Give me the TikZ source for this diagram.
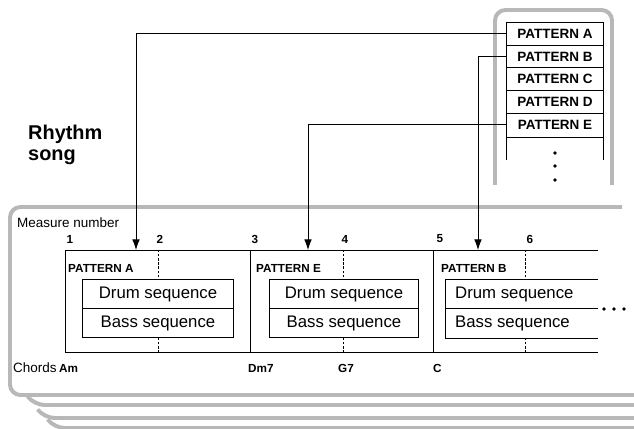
\documentclass[tikz,border=0pt]{standalone}
\usepackage{fontspec}
\setmainfont{Liberation Sans}
\usetikzlibrary{arrows.meta}
\begin{document}
\begin{tikzpicture}[x=0.03cm,y=-0.03cm,
  gr/.style={draw=black!28,line width=3.4pt,rounded corners=9},
  pat/.style={font=\bfseries\fontsize{9}{10}\selectfont,inner sep=0pt},
  num/.style={font=\bfseries\fontsize{10}{11}\selectfont,inner sep=0pt},
  seq/.style={draw,line width=0.5pt,minimum width=151*0.03cm,minimum height=29.5*0.03cm,inner sep=0pt,font=\fontsize{14.3}{15}\selectfont},
  arr/.style={-{Latex[length=9pt,width=6.5pt]},line width=0.7pt},
  dsh/.style={dash pattern=on 2pt off 1.5pt,line width=0.5pt}]
\useasboundingbox (0,0) rectangle (634,429);
% pattern library
\draw[gr] (495,185) -- (495,10) -- (612,10) -- (612,185);
\foreach \y/\l [count=\i] in {22/A,45/B,67/C,90/D,113/E}{
  \node[pat,font=\bfseries\fontsize{11.5}{12}\selectfont] (p\l) at (555,\y+11.5) {PATTERN \l};
  \coordinate (pl\l) at (506,\y+11.5);
}
\draw[line width=0.5pt] (506,160) -- (506,22) -- (603,22) -- (603,160);
\foreach \y in {45,67,90,113,137} \draw[line width=0.5pt] (506,\y) -- (603,\y);
\foreach \y in {153,166,180} \fill (555,\y) circle (1.8);
% title
\node[anchor=west,font=\bfseries\fontsize{17}{18}\selectfont,align=left,inner sep=0pt] (title) at (28,145) {Rhythm\\song};
% song layers
\draw[gr] (634,428) -- (54,428) -- (48,420);
\draw[gr] (634,418) -- (44,418) -- (38,410);
\draw[gr] (634,405) -- (34,405) -- (28,397);
\draw[gr] (622,207) -- (10,207) -- (10,395) -- (634,395);
\node[anchor=west,font=\fontsize{11.5}{12}\selectfont,inner sep=0pt] (mn) at (17,223) {Measure number};
\foreach \x/\n in {70/1,160/2,255/3,345/4,440/5,530/6}
  \node[num] (n\n) at (\x,239) {\n};
% main frame
\draw[line width=0.6pt] (598,250) -- (65,250) -- (65,352) -- (598,352);
\foreach \x in {250,433} \draw[line width=0.6pt] (\x,250) -- (\x,352);
\foreach \x in {158,343,525} {\draw[dsh] (\x,250) -- (\x,279); \draw[dsh] (\x,338) -- (\x,352);}
\node[pat,anchor=west,font=\bfseries\fontsize{10}{11}\selectfont] (sa) at (68,268) {PATTERN A};
\node[pat,anchor=west,font=\bfseries\fontsize{10}{11}\selectfont] (se) at (256,268) {PATTERN E};
\node[pat,anchor=west,font=\bfseries\fontsize{10}{11}\selectfont] (sb) at (441,268) {PATTERN B};
\node[seq] (d1) at (158,294) {Drum sequence};
\node[seq] (b1) at (158,323) {Bass sequence};
\node[seq,minimum width=149*0.03cm] (d2) at (344,294) {Drum sequence};
\node[seq,minimum width=149*0.03cm] (b2) at (344,323) {Bass sequence};
\draw[line width=0.5pt] (598,279) -- (445,279) -- (445,338) -- (598,338) (445,308) -- (598,308);
\node[anchor=west,inner sep=0pt,font=\fontsize{14.3}{15}\selectfont] (d3) at (455,294) {Drum sequence};
\node[anchor=west,inner sep=0pt,font=\fontsize{14.3}{15}\selectfont] (b3) at (455,323) {Bass sequence};
\foreach \x in {604,614,624} \fill (\x,309) circle (1.8);
% chords
\node[anchor=west,font=\fontsize{11.5}{12}\selectfont,inner sep=0pt] (ch) at (13,368) {Chords};
\foreach \x/\c in {66/Am,255/Dm7,345/G7,440/C}
  \node[num,anchor=west] (c\c) at (\x-7,368) {\c};
% arrows
\coordinate (ta) at (136,250); \coordinate (te) at (308,250); \coordinate (tb) at (478,250);
\draw[arr] (plA) -| (ta);
\draw[arr] (plB) -| (tb);
\draw[arr] (plE) -| (te);
\end{tikzpicture}
\end{document}
